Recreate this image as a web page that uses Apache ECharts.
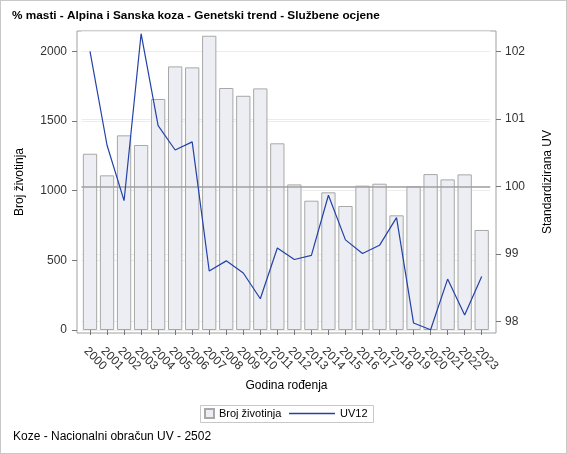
<!DOCTYPE html>
<html>
<head>
<meta charset="utf-8">
<script src="https://cdn.jsdelivr.net/npm/echarts@6/dist/echarts.min.js"></script>
<style>
  html, body { margin: 0; padding: 0; background: #fff; }
  #wrap { position: relative; width: 567px; height: 454px; }
  #chart { width: 567px; height: 454px; }
  #frame { position: absolute; left: 0; top: 0; width: 565px; height: 452px; border: 1px solid #c8c8c8; pointer-events: none; }
</style>
</head>
<body>
<div id="wrap">
  <div id="chart"></div>
  <div id="frame"></div>
</div>
<script>
const years = ['2000', '2001', '2002', '2003', '2004', '2005', '2006', '2007', '2008', '2009', '2010', '2011',
  '2012', '2013', '2014', '2015', '2016', '2017', '2018', '2019', '2020', '2021', '2022', '2023'];
// broj zivotinja po godini
const animalCounts = [1265, 1110, 1397, 1328, 1658, 1892, 1885, 2112, 1737, 1681, 1734, 1340,
  1045, 928, 988, 890, 1036, 1050, 823, 1031, 1119, 1081, 1117, 718];
// UV12 - standardizirana UV
const uv12 = [102.0, 100.61, 99.79, 102.26, 100.9, 100.54, 100.66, 98.75, 98.9, 98.72, 98.34, 99.09,
  98.92, 98.98, 99.87, 99.21, 99.01, 99.13, 99.54, 97.98, 97.88, 98.63, 98.1, 98.67];
const countTicks = [0, 500, 1000, 1500, 2000];
const uvTicks = [98, 99, 100, 101, 102];

const font = '"Liberation Sans", Arial, sans-serif';
const myChart = echarts.init(document.getElementById('chart'));

const option = {
  animation: false,
  textStyle: { fontFamily: font },
  title: [
    {
      text: '% masti - Alpina i Sanska koza - Genetski trend - Službene ocjene',
      left: 12, top: 10, padding: 0,
      textStyle: { fontFamily: font, fontSize: 11.8, fontWeight: 'bold', color: '#000' }
    },
    {
      text: 'Koze - Nacionalni obračun UV - 2502',
      left: 13, top: 431, padding: 0,
      textStyle: { fontFamily: font, fontSize: 12, fontWeight: 'normal', color: '#000' }
    }
  ],
  legend: [
    {
      data: [{ name: 'Broj životinja', icon: 'rect' }],
      left: 204, top: 408, padding: 0,
      itemWidth: 9, itemHeight: 9,
      textStyle: { fontFamily: font, fontSize: 11, color: '#000' }
    },
    {
      data: [{ name: 'UV12', icon: 'rect' }],
      left: 289, top: 408, padding: 0,
      itemWidth: 46, itemHeight: 1.3,
      textStyle: { fontFamily: font, fontSize: 11, color: '#000' }
    }
  ],
  graphic: [
    {
      type: 'rect',
      shape: { x: 200.5, y: 405.5, width: 173, height: 17 },
      style: { fill: 'none', stroke: '#c8c8c8', lineWidth: 1 },
      silent: true
    }
  ],
  grid: [
    // stupci + lijeva os
    { left: 81.5, right: 76.8, top: 31, bottom: 124 },
    // linija + desna os
    { left: 81.5, right: 76.8, top: 51.3, bottom: 132.3 },
    // okvir
    { left: 77, right: 71, top: 31, bottom: 121, show: true, borderColor: '#a0a0a0', borderWidth: 1, backgroundColor: 'transparent' }
  ],
  xAxis: [
    {
      type: 'category', gridIndex: 0, data: years, offset: 3,
      axisLine: { show: false },
      axisTick: { show: true, alignWithLabel: true, length: 5, lineStyle: { color: '#777' } },
      axisLabel: { rotate: -45, interval: 0, fontSize: 12, color: '#333', margin: 12, verticalAlign: 'top', fontFamily: font }
    },
    { type: 'category', gridIndex: 1, data: years, show: false },
    {
      type: 'category', gridIndex: 2, data: years,
      name: 'Godina rođenja', nameLocation: 'middle', nameGap: 47,
      nameTextStyle: { fontSize: 12, color: '#000', fontFamily: font },
      axisLine: { show: false }, axisTick: { show: false }, axisLabel: { show: false }
    }
  ],
  yAxis: [
    {
      type: 'value', gridIndex: 0, min: countTicks[0], max: 2146, interval: countTicks[1] - countTicks[0],
      offset: 4.5,
      axisLine: { show: false },
      axisTick: { show: true, length: 5, lineStyle: { color: '#777' } },
      axisLabel: { fontSize: 12, color: '#333', showMaxLabel: false, margin: 10, fontFamily: font, formatter: v => String(v) },
      splitLine: { show: true, lineStyle: { color: '#ececec' } }
    },
    {
      type: 'value', gridIndex: 1, position: 'right', min: uvTicks[0], max: uvTicks[uvTicks.length - 1], interval: 1,
      offset: 5.8,
      axisLine: { show: false },
      axisTick: { show: true, length: 5, lineStyle: { color: '#777' } },
      axisLabel: { fontSize: 12, color: '#333', margin: 9, fontFamily: font },
      splitLine: { show: true, lineStyle: { color: '#ececec' } }
    },
    {
      type: 'value', gridIndex: 2, position: 'left',
      name: 'Broj životinja', nameLocation: 'middle', nameGap: 51, nameRotate: 90,
      nameTextStyle: { fontSize: 12, color: '#000', fontFamily: font },
      axisLine: { show: false }, axisTick: { show: false }, axisLabel: { show: false }, splitLine: { show: false }
    },
    {
      type: 'value', gridIndex: 2, position: 'right',
      name: 'Standardizirana UV', nameLocation: 'middle', nameGap: 46, nameRotate: 90,
      nameTextStyle: { fontSize: 12, color: '#000', fontFamily: font },
      axisLine: { show: false }, axisTick: { show: false }, axisLabel: { show: false }, splitLine: { show: false }
    }
  ],
  series: [
    {
      name: 'Broj životinja',
      type: 'bar',
      xAxisIndex: 0, yAxisIndex: 0,
      data: animalCounts,
      barCategoryGap: '16%',
      clip: false,
      itemStyle: { color: '#eceef3', borderColor: '#a8a8a8', borderWidth: 1 }
    },
    {
      name: 'UV12',
      type: 'line',
      xAxisIndex: 1, yAxisIndex: 1,
      data: uv12,
      symbol: 'none',
      clip: false,
      z: 5,
      lineStyle: { color: '#2342a8', width: 1.2 },
      itemStyle: { color: '#2342a8' },
      markLine: {
        silent: true,
        symbol: 'none',
        label: { show: false },
        lineStyle: { color: '#a0a0a0', width: 1.5, type: 'solid' },
        data: [{ yAxis: 100 }]
      }
    }
  ]
};

myChart.setOption(option);
window.onresize = () => {
  myChart.resize();
};
</script>
</body>
</html>
